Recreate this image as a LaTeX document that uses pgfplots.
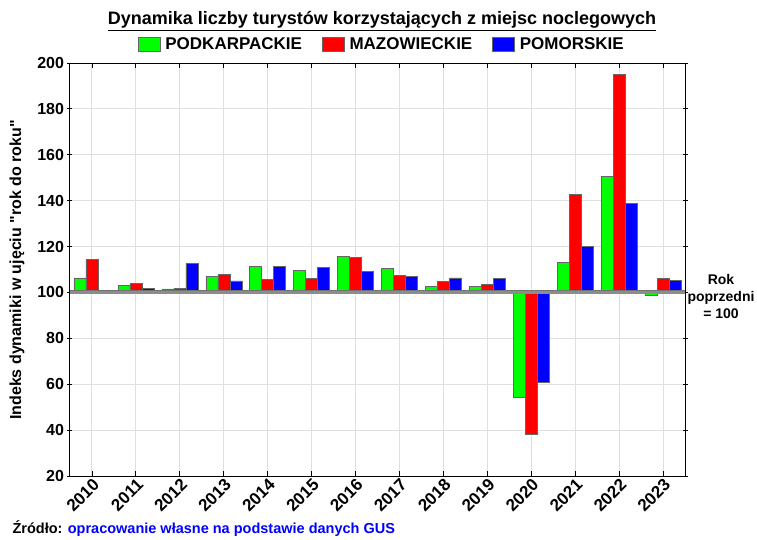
\documentclass[border=0pt]{standalone}
\usepackage{pgfplots}
\pgfplotsset{compat=1.18}
\usepackage{pgfplotstable}
\usepackage{fontspec}
\setmainfont{Liberation Sans}[Ligatures=TeXOff]

% indeksy "rok do roku" (rok poprzedni = 100)
\pgfplotstableread{
x  pod    maz    pom
0  106.3  114.3  101.0
1  103.1  103.8  101.9
2  101.6  101.8  112.6
3  106.9  108.0  105.0
4  111.5  105.8  111.5
5  109.6  106.0  110.8
6  115.8  115.2  109.3
7  110.4  107.4  107.0
8  102.8  104.8  106.3
9  102.5  103.6  106.1
10 54.5   38.1   60.7
11 113.1  142.9  120.0
12 150.5  194.9  138.7
13 98.8   106.1  105.3
}\dane

\definecolor{zielony}{RGB}{0,255,0}
\definecolor{czerwony}{RGB}{255,0,0}
\definecolor{niebieski}{RGB}{0,0,255}

\begin{document}
\begin{tikzpicture}
\useasboundingbox (-70pt,-63pt) rectangle (687pt,476pt);
\begin{axis}[
  at={(0pt,0pt)}, anchor=south west,
  scale only axis, width=615pt, height=413pt,
  ybar=0pt, bar width=12pt,
  xmin=-0.5, xmax=13.5, ymin=-80, ymax=100,
  xtick={0,...,13},
  xticklabels={2010,2011,2012,2013,2014,2015,2016,2017,2018,2019,2020,2021,2022,2023},
  x tick label style={rotate=45, anchor=north east, inner sep=1pt,
    font=\bfseries\fontsize{17}{17}\selectfont},
  ytick={-80,-60,-40,-20,0,20,40,60,80,100},
  yticklabels={20,40,60,80,100,120,140,160,180,200},
  y tick label style={font=\bfseries\fontsize{16}{16}\selectfont},
  xtick align=inside, ytick align=center, major tick length=5pt,
  tick style={black, line width=0.8pt},
  grid=major, grid style={gray!25, line width=1pt},
  axis line style={black, line width=1pt},
  legend columns=3,
  legend style={at={(0.507,1.046)}, anchor=center, draw=none, fill=none,
    font=\bfseries\fontsize{17}{17}\selectfont,
    /tikz/every odd column/.append style={column sep=3pt},
    /tikz/every even column/.append style={column sep=18pt}},
  legend image code/.code={\draw[#1] (0pt,-7pt) rectangle (22pt,7pt);},
  every axis plot/.append style={draw=black!60, line width=0.5pt},
]
\addplot[fill=zielony] table[x=x, y expr=\thisrow{pod}-100] {\dane};
\addplot[fill=czerwony] table[x=x, y expr=\thisrow{maz}-100] {\dane};
\addplot[fill=niebieski] table[x=x, y expr=\thisrow{pom}-100] {\dane};
\legend{PODKARPACKIE, MAZOWIECKIE, POMORSKIE}
\draw[black!55, line width=4pt] (axis cs:-0.5,0) -- (axis cs:13.5,0);
\draw[gray!90, line width=2.5pt] (axis cs:-0.5,0) -- (axis cs:13.5,0);
\end{axis}
\node[font=\bfseries\fontsize{18}{18}\selectfont] at (312pt,455pt)
  {\underline{Dynamika liczby turystów korzystających z miejsc noclegowych}};
\node[rotate=90, font=\bfseries\fontsize{16}{16}\selectfont] at (-53pt,206pt)
  {Indeks dynamiki w ujęciu "rok do roku"};
\node[align=center, font=\bfseries\fontsize{14}{17}\selectfont] at (651pt,180pt)
  {Rok\\poprzedni\\= 100};
\node[anchor=base west, font=\bfseries\fontsize{14.5}{14.5}\selectfont] at (-61pt,-57pt)
  {Źródło: \textcolor{blue}{opracowanie własne na podstawie danych GUS}};
\end{tikzpicture}
\end{document}
